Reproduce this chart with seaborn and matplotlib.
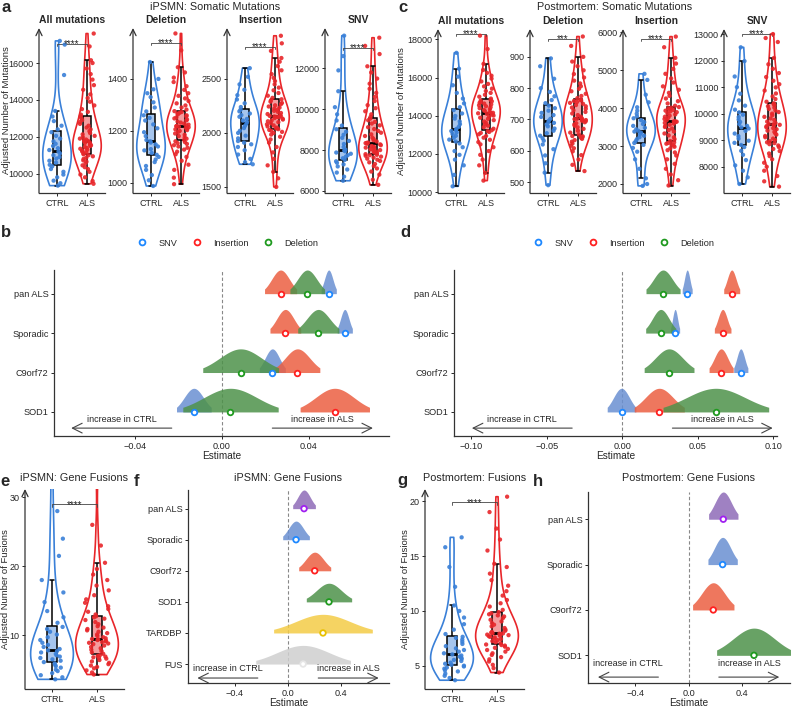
import numpy as np
import pandas as pd
import seaborn as sns
import matplotlib.pyplot as plt
import matplotlib.colors as mcolors
from matplotlib.lines import Line2D

# ---------------- data ----------------
groups = ["CTRL", "ALS"]

# iPSMN somatic mutations (adjusted counts)
ips_all_ctrl = [9350, 9480, 9620, 9800, 9950, 10100, 10250, 10400, 10480, 10600, 10700, 10820, 10900, 11000, 11100, 11200,
                11280, 11380, 11500, 11620, 11750, 11900, 12050, 12250, 12400, 12600, 12850, 13100, 13400, 15350, 17000, 17200]
ips_all_als = [9450, 9600, 9800, 9950, 10100, 10250, 10350, 10450, 10550, 10650, 10720, 10800, 10870, 10940, 11000, 11050,
               11100, 11150, 11200, 11250, 11300, 11350, 11400, 11450, 11500, 11540, 11580, 11620, 11660, 11700, 11740, 11770,
               11800, 11850, 11900, 11980, 12050, 12130, 12200, 12300, 12400, 12500, 12600, 12700, 12800, 12900, 13000, 13100,
               13200, 13350, 13500, 13700, 13900, 14100, 14300, 14550, 14800, 15100, 15400, 15700, 16000, 16150, 16900, 17600]
ips_del_ctrl = [988, 1010, 1030, 1050, 1065, 1080, 1090, 1100, 1108, 1115, 1125, 1130, 1140, 1148, 1155, 1160,
                1165, 1180, 1195, 1210, 1225, 1240, 1250, 1260, 1275, 1290, 1310, 1330, 1345, 1360, 1400, 1465]
ips_del_als = [995, 1020, 1050, 1070, 1085, 1100, 1110, 1120, 1128, 1135, 1140, 1145, 1150, 1153, 1157, 1160,
               1165, 1170, 1175, 1180, 1185, 1190, 1195, 1200, 1203, 1206, 1209, 1212, 1214, 1216, 1218, 1219,
               1221, 1224, 1228, 1232, 1236, 1240, 1244, 1248, 1252, 1256, 1260, 1264, 1267, 1270, 1273, 1276,
               1282, 1290, 1298, 1306, 1315, 1325, 1335, 1345, 1358, 1372, 1388, 1405, 1425, 1445, 1510, 1575]
ips_ins_ctrl = [1710, 1730, 1760, 1800, 1840, 1870, 1895, 1910, 1925, 1950, 1975, 2000, 2020, 2045, 2065, 2085,
                2100, 2115, 2130, 2150, 2165, 2180, 2200, 2215, 2240, 2275, 2310, 2350, 2400, 2450, 2520, 2600]
ips_ins_als = [1500, 1580, 1640, 1700, 1760, 1820, 1870, 1910, 1940, 1965, 1985, 2000, 2010, 2020, 2028, 2035,
               2042, 2050, 2060, 2070, 2080, 2090, 2100, 2108, 2116, 2124, 2132, 2138, 2144, 2149, 2153, 2156,
               2158, 2165, 2175, 2185, 2195, 2205, 2215, 2225, 2235, 2245, 2256, 2267, 2278, 2290, 2302, 2312,
               2325, 2345, 2370, 2395, 2420, 2450, 2480, 2510, 2545, 2580, 2620, 2660, 2694, 2760, 2830, 2900]
ips_snv_ctrl = [6500, 6700, 6900, 7050, 7200, 7300, 7380, 7450, 7520, 7600, 7680, 7750, 7820, 7880, 7940, 7980,
                8020, 8150, 8300, 8450, 8600, 8750, 8900, 9020, 9200, 9450, 9750, 10100, 10880, 11900, 12600, 13600]
ips_snv_als = [6300, 6550, 6800, 6950, 7100, 7220, 7320, 7400, 7470, 7530, 7580, 7630, 7680, 7720, 7750, 7770,
               7800, 7840, 7880, 7920, 7960, 8000, 8040, 8080, 8120, 8160, 8200, 8240, 8280, 8310, 8340, 8355,
               8365, 8420, 8480, 8540, 8610, 8690, 8770, 8850, 8940, 9030, 9120, 9210, 9300, 9380, 9460, 9540,
               9620, 9750, 9900, 10050, 10200, 10400, 10600, 10800, 11000, 11250, 11500, 11800, 12100, 12700, 13100, 13500]

# postmortem somatic mutations
pm_all_ctrl = [10300, 10900, 11400, 11700, 11950, 12150, 12350, 12550, 12650, 12750, 12850, 12950, 13050, 13130, 13200, 13250,
               13310, 13420, 13560, 13700, 13850, 13990, 14120, 14300, 14450, 14650, 14900, 15200, 15600, 16050, 16470, 17300]
pm_all_als = [10600, 11000, 11400, 11700, 11950, 12150, 12350, 12500, 12620, 12740, 12850, 12940, 13030, 13100, 13150, 13190,
              13240, 13320, 13400, 13480, 13560, 13630, 13700, 13770, 13840, 13900, 13960, 14010, 14060, 14100, 14130, 14145,
              14155, 14200, 14250, 14300, 14350, 14400, 14450, 14500, 14550, 14600, 14640, 14680, 14720, 14760, 14800, 14840,
              14900, 15000, 15100, 15200, 15300, 15420, 15540, 15670, 15800, 15950, 16100, 16250, 16400, 16720, 17500, 18200]
pm_del_ctrl = [490, 530, 560, 585, 605, 620, 632, 640, 648, 656, 664, 671, 678, 684, 689, 692,
               696, 702, 708, 714, 721, 728, 736, 744, 752, 762, 774, 788, 800, 830, 870, 895]
pm_del_als = [535, 555, 572, 586, 598, 608, 616, 623, 629, 634, 638, 641, 643, 645, 646, 647,
              652, 658, 664, 670, 675, 680, 684, 688, 691, 694, 696, 698, 700, 701, 702, 703,
              705, 709, 714, 719, 724, 729, 734, 738, 742, 746, 750, 753, 756, 759, 761, 763,
              768, 775, 782, 790, 798, 806, 815, 824, 834, 845, 857, 870, 885, 900, 935, 965]
pm_ins_ctrl = [1950, 2000, 2150, 2400, 2650, 2850, 2950, 3030, 3080, 3130, 3180, 3230, 3270, 3310, 3350, 3380,
               3400, 3440, 3480, 3530, 3580, 3630, 3680, 3730, 3780, 3850, 3930, 4020, 4150, 4350, 4740, 4900]
pm_ins_als = [1960, 2100, 2250, 2400, 2530, 2650, 2750, 2830, 2890, 2940, 2980, 3010, 3040, 3060, 3080, 3095,
              3130, 3180, 3230, 3280, 3330, 3380, 3420, 3460, 3500, 3530, 3560, 3590, 3610, 3630, 3640, 3648,
              3652, 3680, 3710, 3740, 3770, 3800, 3830, 3860, 3890, 3910, 3930, 3950, 3970, 3990, 4010, 4025,
              4060, 4120, 4180, 4250, 4320, 4400, 4480, 4570, 4670, 4780, 4900, 5030, 5170, 5320, 5600, 5880]
pm_snv_ctrl = [7350, 7600, 7850, 8050, 8250, 8450, 8600, 8740, 8820, 8900, 8980, 9060, 9150, 9250, 9350, 9440,
               9480, 9540, 9610, 9690, 9780, 9870, 9960, 10050, 10150, 10300, 10500, 10750, 11000, 11400, 11980, 12500]
pm_snv_als = [7250, 7450, 7650, 7850, 8000, 8150, 8280, 8400, 8500, 8590, 8670, 8740, 8800, 8850, 8890, 8920,
              8960, 9010, 9060, 9110, 9160, 9210, 9260, 9310, 9360, 9410, 9450, 9490, 9530, 9560, 9580, 9595,
              9605, 9650, 9700, 9760, 9820, 9880, 9940, 10000, 10060, 10120, 10180, 10230, 10280, 10320, 10360, 10390,
              10450, 10550, 10650, 10760, 10870, 10990, 11110, 11240, 11380, 11530, 11690, 11860, 12100, 12700, 12850, 13000]

# gene fusions
ips_fus_ctrl = [3.6, 3.9, 4.2, 4.5, 4.8, 5.0, 5.3, 5.5, 5.7, 5.9, 6.1, 6.3, 6.5, 6.7, 6.9, 7.1, 7.3, 7.5, 7.7, 7.8,
                8.0, 8.3, 8.6, 8.9, 9.3, 9.7, 10.1, 10.5, 10.9, 11.2, 11.8, 12.6, 13.5, 14.8, 16.2, 18.0, 21.5, 24.0, 28.0, 34.0]
ips_fus_als = [4.3, 4.6, 4.9, 5.2, 5.4, 5.6, 5.8, 6.0, 6.2, 6.4, 6.6, 6.7, 6.8, 6.9, 7.0, 7.1,
               7.3, 7.5, 7.7, 7.9, 8.1, 8.3, 8.5, 8.7, 8.8, 8.9, 9.0, 9.1, 9.2, 9.3, 9.4, 9.45,
               9.55, 9.7, 9.9, 10.1, 10.3, 10.5, 10.7, 10.9, 11.1, 11.3, 11.6, 11.9, 12.2, 12.4, 12.6, 12.75,
               13.0, 13.4, 13.8, 14.2, 14.7, 15.2, 15.8, 16.5, 17.2, 18.0, 18.8, 19.6, 20.5, 23.0, 26.0, 33.0]
pm_fus_ctrl = [3.7, 3.9, 4.1, 4.3, 4.5, 4.6, 4.75, 4.85, 4.95, 5.02, 5.1, 5.2, 5.3, 5.45, 5.55, 5.65, 5.75, 5.85, 5.95, 6.05,
               6.15, 6.3, 6.45, 6.6, 6.8, 7.0, 7.2, 7.4, 7.55, 7.65, 7.9, 8.3, 8.8, 9.4, 10.0, 10.5, 12.2, 14.0, 15.8, 16.7]
pm_fus_als = [4.4, 4.8, 5.1, 5.4, 5.6, 5.8, 6.0, 6.15, 6.3, 6.45, 6.55, 6.65, 6.75, 6.85, 6.9, 6.95,
              7.05, 7.15, 7.25, 7.35, 7.45, 7.5, 7.6, 7.65, 7.7, 7.75, 7.8, 7.85, 7.9, 7.93, 7.96, 7.98,
              8.02, 8.1, 8.2, 8.3, 8.45, 8.6, 8.75, 8.9, 9.05, 9.2, 9.35, 9.5, 9.6, 9.7, 9.8, 9.9,
              10.1, 10.4, 10.7, 11.0, 11.4, 11.8, 12.3, 12.8, 13.4, 14.0, 14.3, 15.5, 16.5, 17.5, 19.0, 20.4]

# model estimates (estimate and interval half-width) by subtype
subtypes4 = ["pan ALS", "Sporadic", "C9orf72", "SOD1"]
subtypes6 = ["pan ALS", "Sporadic", "C9orf72", "SOD1", "TARDBP", "FUS"]
mut_types = ["SNV", "Insertion", "Deletion"]

b_snv_est = [0.0492, 0.0566, 0.0232, -0.0130]
b_snv_hw = [0.0035, 0.0035, 0.0060, 0.0080]
b_ins_est = [0.0270, 0.0292, 0.0348, 0.0520]
b_ins_hw = [0.0074, 0.0071, 0.0103, 0.0160]
b_del_est = [0.0393, 0.0444, 0.0086, 0.0039]
b_del_hw = [0.0080, 0.0095, 0.0175, 0.0220]

d_snv_est = [0.0430, 0.0350, 0.0785, -0.0005]
d_snv_hw = [0.0033, 0.0030, 0.0047, 0.0095]
d_ins_est = [0.0725, 0.0665, 0.0655, 0.0245]
d_ins_hw = [0.0053, 0.0055, 0.0080, 0.0166]
d_del_est = [0.0270, 0.0255, 0.0310, 0.0620]
d_del_hw = [0.0113, 0.0100, 0.0165, 0.0350]

f_est = [0.120, 0.060, 0.200, 0.307, 0.262, 0.113]
f_hw = [0.085, 0.100, 0.120, 0.170, 0.370, 0.355]
h_est = [0.260, 0.255, 0.185, 0.490]
h_hw = [0.110, 0.110, 0.155, 0.280]

# ---------------- style ----------------
ctrl_col = "#3A80D8"
als_col = "#E8262A"
type_fill = {"SNV": "#6A90D2", "Insertion": "#EC5F42", "Deletion": "#4E924A"}
type_edge = {"SNV": "#1E88FF", "Insertion": "#FF2020", "Deletion": "#1F9A1F"}
sub_fill = ["#8E6BB8", "#6A90D2", "#EC5F42", "#4E924A", "#F4CC47", "#CFCFCF"]
sub_edge = ["#A020F0", "#1E88FF", "#FF2020", "#1F9A1F", "#E8C000", "#E6E6E6"]

sns.set_style("ticks")
plt.rcParams["font.family"] = ["Liberation Sans", "DejaVu Sans"]
plt.rcParams["axes.linewidth"] = 0.9
plt.rcParams["axes.edgecolor"] = "#333333"

W, H = 792, 708
fig = plt.figure(figsize=(W / 100, H / 100), dpi=100)
np.random.seed(3)


def add_axes(x0, y0, x1, y1):
    return fig.add_axes([x0 / W, 1 - y1 / H, (x1 - x0) / W, (y1 - y0) / H])


def minus(vals, fmt):
    return [fmt.format(v).replace("-", "\u2212") for v in vals]


def violin_panel(ax, ctrl, als, ylim, yticks, sig, sig_y, title=None, ylabel=None, label_x=-0.5, box_w=0.28):
    df = pd.DataFrame({"group": ["CTRL"] * len(ctrl) + ["ALS"] * len(als), "value": ctrl + als})
    pal = {"CTRL": ctrl_col, "ALS": als_col}
    sns.violinplot(data=df, x="group", y="value", hue="group", order=groups, hue_order=groups,
                   palette=pal, fill=False, inner=None, cut=0, density_norm="width", width=0.95,
                   linewidth=1.2, legend=False, ax=ax)
    sns.stripplot(data=df, x="group", y="value", hue="group", order=groups, hue_order=groups,
                  palette=pal, jitter=0.27, size=3.1, linewidth=0, alpha=0.9, legend=False, ax=ax)
    sns.boxplot(data=df, x="group", y="value", order=groups, width=box_w, showfliers=False,
                color="white", linecolor="black", linewidth=1.1,
                medianprops=dict(linewidth=2.0), ax=ax)
    for patch, col in zip(ax.patches, [ctrl_col, als_col]):
        patch.set_facecolor(mcolors.to_rgba(col, 0.45))
    rng = ylim[1] - ylim[0]
    ax.plot([0, 0, 1, 1], [sig_y - 0.012 * rng, sig_y, sig_y, sig_y - 0.012 * rng], color="#444444", lw=0.6)
    ax.text(0.5, sig_y - 0.02 * rng, sig, ha="center", va="baseline", fontsize=7)
    ax.set_xlim(-0.6, 1.6)
    ax.set_ylim(*ylim)
    ax.set_yticks(yticks)
    ax.set_xlabel("")
    ax.set_ylabel(ylabel if ylabel else "", fontsize=6.8)
    ax.yaxis.set_label_coords(label_x, 0.5)
    ax.tick_params(labelsize=6.5, length=2.5, width=0.7, pad=1.5)
    sns.despine(ax=ax)
    ax.spines["left"].set_visible(False)
    ax.annotate("", xy=(0, 1), xytext=(0, 0), xycoords="axes fraction",
                arrowprops=dict(arrowstyle="->,head_length=0.45,head_width=0.22", lw=0.9,
                                color="#333333", shrinkA=0, shrinkB=0))
    if title:
        ax.set_title(title, fontsize=7.5, fontweight="bold", pad=3.5)


def draw_slab(ax, y, m, hw, color):
    sd = hw / 1.8
    xs = np.linspace(m - hw, m + hw, 200)
    dens = np.exp(-0.5 * ((xs - m) / sd) ** 2)
    ax.fill_between(xs, y, y + 0.6 * dens, color=color, alpha=0.85, lw=0, zorder=2)


def slab_axes(ax, rows, xlim, xticks, xfmt, arrow_lim, arrow_y, text_y):
    n = len(rows)
    ax.axvline(0, color="#888888", lw=0.8, ls=(0, (3, 2)), zorder=1)
    ax.set_xlim(*xlim)
    ax.set_ylim(0.39, n + 0.6)
    ax.set_yticks(np.arange(n, 0, -1))
    ax.set_yticklabels(rows)
    ax.set_xticks(xticks)
    ax.set_xticklabels(minus(xticks, xfmt))
    ax.set_xlabel("Estimate", fontsize=7.2, labelpad=0.5)
    ax.set_ylabel("")
    ax.tick_params(labelsize=6.6, length=2.5, width=0.7, pad=1.5)
    sns.despine(ax=ax)
    aprops = dict(arrowstyle="->,head_length=0.7,head_width=0.35", lw=0.8, color="#444444",
                  shrinkA=0, shrinkB=0)
    ax.annotate("", xy=(-0.9 * arrow_lim, arrow_y), xytext=(-0.3 * arrow_lim, arrow_y), arrowprops=aprops)
    ax.annotate("", xy=(0.9 * arrow_lim, arrow_y), xytext=(0.3 * arrow_lim, arrow_y), arrowprops=aprops)
    ax.text(-0.6 * arrow_lim, text_y, "increase in CTRL", ha="center", va="center", fontsize=6.5)
    ax.text(0.6 * arrow_lim, text_y, "increase in ALS", ha="center", va="center", fontsize=6.5)


def mutation_slabs(ax, series):
    ypos = np.arange(4, 0, -1)
    for name, est, hw in series:
        for y, m, h in zip(ypos, est, hw):
            draw_slab(ax, y, m, h, type_fill[name])
    for name, est, hw in series:
        sns.scatterplot(x=est, y=ypos, ax=ax, marker="o", s=16, color="white",
                        edgecolor=type_edge[name], linewidth=1.3, zorder=5, legend=False)


def subtype_slabs(ax, est, hw):
    n = len(est)
    ypos = np.arange(n, 0, -1)
    for y, m, h, c in zip(ypos, est, hw, sub_fill):
        draw_slab(ax, y, m, h, c)
    sns.scatterplot(x=est, y=ypos, ax=ax, marker="o", s=16, color="white",
                    edgecolor=sub_edge[:n], linewidth=1.3, zorder=5, legend=False)


# ---------------- panel a ----------------
a_specs = [
    (39, ips_all_ctrl, ips_all_als, (8950, 17900), [10000, 12000, 14000, 16000], "****", 17050, "All mutations"),
    (133, ips_del_ctrl, ips_del_als, (961, 1596), [1000, 1200, 1400], "****", 1538, "Deletion"),
    (227, ips_ins_ctrl, ips_ins_als, (1444, 2972), [1500, 2000, 2500], "****", 2796, "Insertion"),
    (325, ips_snv_ctrl, ips_snv_als, (5900, 13975), [6000, 8000, 10000, 12000], "****", 13000, "SNV"),
]
for i, (x0, c, a, yl, yt, s, sy, t) in enumerate(a_specs):
    ax = add_axes(x0, 28, x0 + 66, 193)
    violin_panel(ax, c, a, yl, yt, s, sy, title=t,
                 ylabel="Adjusted Number of Mutations" if i == 0 else None, label_x=-0.43)

# ---------------- panel c ----------------
c_specs = [
    (438, pm_all_ctrl, pm_all_als, (9950, 18550), [10000, 12000, 14000, 16000, 18000], "****", 18300, "All mutations"),
    (530, pm_del_ctrl, pm_del_als, (465, 989), [500, 600, 700, 800, 900], "***", 957, "Deletion"),
    (623, pm_ins_ctrl, pm_ins_als, (1763, 6080), [2000, 3000, 4000, 5000, 6000], "****", 5820, "Insertion"),
    (724, pm_snv_ctrl, pm_snv_als, (7010, 13190), [8000, 9000, 10000, 11000, 12000, 13000], "****", 13000, "SNV"),
]
for i, (x0, c, a, yl, yt, s, sy, t) in enumerate(c_specs):
    ax = add_axes(x0, 29, x0 + 66, 193)
    violin_panel(ax, c, a, yl, yt, s, sy, title=t,
                 ylabel="Adjusted Number of Mutations" if i == 0 else None, label_x=-0.49)

# ---------------- panel b / d ----------------
ax_b = add_axes(54, 270, 389, 436)
mutation_slabs(ax_b, [("SNV", b_snv_est, b_snv_hw), ("Insertion", b_ins_est, b_ins_hw),
                      ("Deletion", b_del_est, b_del_hw)])
slab_axes(ax_b, subtypes4, (-0.0775, 0.077), [-0.04, 0.0, 0.04], "{:.2f}", 0.0773, 0.59, 0.82)

ax_d = add_axes(454, 270, 777, 436)
mutation_slabs(ax_d, [("SNV", d_snv_est, d_snv_hw), ("Insertion", d_ins_est, d_ins_hw),
                      ("Deletion", d_del_est, d_del_hw)])
slab_axes(ax_d, subtypes4, (-0.1115, 0.1025), [-0.10, -0.05, 0.0, 0.05, 0.10], "{:.2f}", 0.1107, 0.59, 0.82)

handles = [Line2D([], [], marker="o", ls="", mfc="white", mec=type_edge[t], mew=1.3, ms=4.2) for t in mut_types]
for cx in (228, 624):
    fig.legend(handles, mut_types, loc="center", bbox_to_anchor=(cx / W, 1 - 243 / H), ncol=3,
               frameon=False, fontsize=6.6, handlelength=1.0, handletextpad=1.3, columnspacing=1.6)

# ---------------- panel e / g ----------------
ax_e = add_axes(25, 489, 124, 689)
violin_panel(ax_e, ips_fus_ctrl, ips_fus_als, (2.2, 31.2), [10, 20, 30], "****", 29.0,
             ylabel="Adjusted Number of Fusions", label_x=-0.15, box_w=0.22)
ax_g = add_axes(425, 489, 524, 689)
violin_panel(ax_g, pm_fus_ctrl, pm_fus_als, (2.9, 21.1), [5, 10, 15, 20], "****", 19.9,
             ylabel="Adjusted Number of Fusions", label_x=-0.15, box_w=0.22)

# ---------------- panel f / h ----------------
ax_f = add_axes(188, 490, 389, 683)
subtype_slabs(ax_f, f_est, f_hw)
slab_axes(ax_f, subtypes6, (-0.75, 0.757), [-0.4, 0.0, 0.4], "{:.1f}", 0.755, 0.55, 0.87)

ax_h = add_axes(588, 492, 790, 683)
subtype_slabs(ax_h, h_est, h_hw)
slab_axes(ax_h, subtypes4, (-0.754, 0.76), [-0.4, 0.0, 0.4], "{:.1f}", 0.755, 0.52, 0.81)

# ---------------- titles and panel letters ----------------
titles = [("iPSMN: Somatic Mutations", 215, 7), ("Postmortem: Somatic Mutations", 615, 7),
          ("iPSMN: Gene Fusions", 74, 478), ("iPSMN: Gene Fusions", 288, 478),
          ("Postmortem: Fusions", 475, 478), ("Postmortem: Gene Fusions", 688, 478)]
for txt, x, y in titles:
    fig.text(x / W, 1 - y / H, txt, ha="center", va="center", fontsize=7.8)

letters = [("a", 6, 8), ("b", 6, 233), ("c", 403, 8), ("d", 405, 233),
           ("e", 5, 481), ("f", 137, 482), ("g", 402, 481), ("h", 538, 482)]
for lab, x, y in letters:
    fig.text(x / W, 1 - y / H, lab, ha="center", va="center", fontsize=12, fontweight="bold")

fig.savefig("out.png", dpi=100)
